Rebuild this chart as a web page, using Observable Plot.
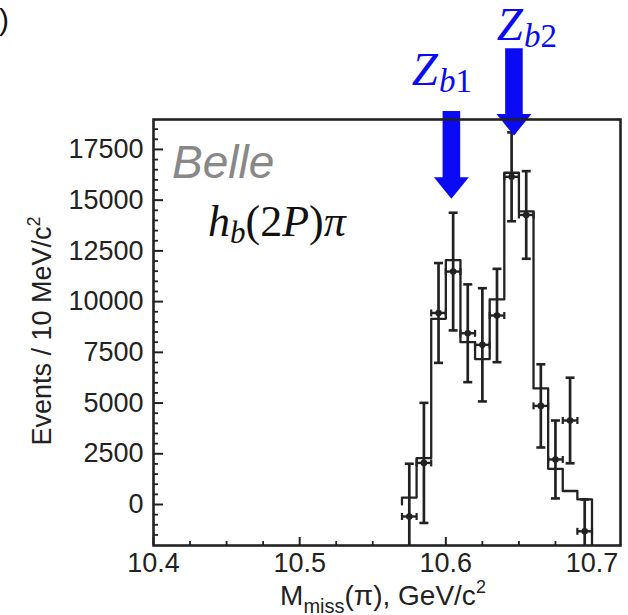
<!DOCTYPE html>
<html><head><meta charset="utf-8">
<script src="https://cdn.jsdelivr.net/npm/d3@7"></script>
<script src="https://cdn.jsdelivr.net/npm/@observablehq/plot@0.6"></script>
<style>
html,body{margin:0;padding:0;background:#fff;}
#chart{position:relative;width:628px;height:615px;overflow:hidden;}
</style></head><body><div id="chart"></div>
<script>
// ---- data ----
const binCenters = [10.575, 10.585, 10.595, 10.605, 10.615, 10.625, 10.635, 10.645, 10.655, 10.665, 10.675, 10.685, 10.695];
const events     = [-590, 2050, 9440, 11480, 8440, 7870, 9315, 16150, 14270, 4860, 2220, 4140, -1320];
const errors     = [2600, 2960, 2460, 2900, 2410, 2790, 2300, 2190, 2160, 2050, 1920, 2110, 1570];
const fitValues  = [340, 2290, 9150, 12040, 8000, 7170, 10110, 16350, 14450, 5720, 1760, 665, 250];
const binWidth = 0.01;

const xMajorTicks = [10.4, 10.5, 10.6, 10.7];
const xMinorTicks = [10.425, 10.45, 10.475, 10.525, 10.55, 10.575, 10.625, 10.65, 10.675];
const yMajorTicks = [0, 2500, 5000, 7500, 10000, 12500, 15000, 17500];
const yMinorTicks = [-1500, -1000, -500, 500, 1000, 1500, 2000, 3000, 3500, 4000, 4500, 5500, 6000, 6500, 7000,
  8000, 8500, 9000, 9500, 10500, 11000, 11500, 12000, 13000, 13500, 14000, 14500, 15500, 16000, 16500, 17000, 18000, 18500];

const arrowNames  = ["1", "2"];
const arrowMass   = [10.6038, 10.6466];
const arrowTip    = [15066, 18186];
const arrowTail   = [19369, 22459];
const labelMass   = [10.5771, 10.6352];
const labelLevel  = [20651, 22868];

const xDomain = [10.4, 10.7195];
const yDomain = [-2020, 18975];

// ---- derived tables ----
const points = binCenters.map((m, i) => ({m, n: events[i], e: errors[i]}));
const steps = [{x: binCenters[0] - binWidth / 2, y: 0}];
binCenters.forEach((c, i) => {
  steps.push({x: c - binWidth / 2, y: fitValues[i]});
  steps.push({x: c + binWidth / 2, y: fitValues[i]});
});
steps.push({x: binCenters[binCenters.length - 1] + binWidth / 2, y: yDomain[0]});
const arrows = arrowNames.map((k, i) => ({k, m: arrowMass[i], tip: arrowTip[i], tail: arrowTail[i]}));

const W = 628, H = 615, mL = 153, mR = 8, mT = 119, mB = 70;
const plotW = W - mL - mR, plotH = H - mT - mB;
const ink = "#222";
const blue = "#0a0af5";

const hCap = {draw(ctx) { ctx.moveTo(-4.5, 0); ctx.lineTo(4.5, 0); }};
const vCap = {draw(ctx) { ctx.moveTo(0, -3.5); ctx.lineTo(0, 3.5); }};
const head = {draw(ctx) { ctx.moveTo(0, 0); ctx.lineTo(-17.5, -21.6); ctx.lineTo(17.5, -21.6); ctx.closePath(); }};

const plot = Plot.plot({
  width: W, height: H,
  marginLeft: mL, marginRight: mR, marginTop: mT, marginBottom: mB,
  style: {fontFamily: "Liberation Sans, Arial, sans-serif", color: ink, background: "#fff"},
  x: {domain: xDomain},
  y: {domain: yDomain},
  marks: [
    Plot.tickY(yMajorTicks, {y: d => d, insetRight: plotW - 10, stroke: ink, strokeWidth: 2}),
    Plot.tickY(yMinorTicks, {y: d => d, insetRight: plotW - 5, stroke: ink, strokeWidth: 1.8}),
    Plot.tickX(xMajorTicks, {x: d => d, insetTop: plotH - 8, stroke: ink, strokeWidth: 2}),
    Plot.tickX(xMinorTicks, {x: d => d, insetTop: plotH - 4, stroke: ink, strokeWidth: 1.8}),
    Plot.axisY(yMajorTicks, {tickSize: 0, tickPadding: 10, tickFormat: d => String(d), fontSize: 27, label: null}),
    Plot.axisX(xMajorTicks, {tickSize: 0, tickPadding: 7, tickFormat: d => d.toFixed(1), fontSize: 27, label: null}),
    Plot.line(steps, {x: "x", y: "y", stroke: ink, strokeWidth: 2.3, clip: true}),
    Plot.ruleX(points, {x: "m", y1: d => d.n - d.e, y2: d => d.n + d.e, stroke: ink, strokeWidth: 2.7, clip: true}),
    Plot.dot(points, {x: "m", y: d => d.n + d.e, symbol: hCap, stroke: ink, strokeWidth: 2.6, fill: "none", clip: true}),
    Plot.dot(points, {x: "m", y: d => d.n - d.e, symbol: hCap, stroke: ink, strokeWidth: 2.6, fill: "none", clip: true}),
    Plot.ruleY(points, {y: "n", x1: d => d.m - binWidth / 2, x2: d => d.m + binWidth / 2, stroke: ink, strokeWidth: 2.4, clip: true}),
    Plot.dot(points, {x: d => d.m - binWidth / 2, y: "n", symbol: vCap, stroke: ink, strokeWidth: 2.2, fill: "none", clip: true}),
    Plot.dot(points, {x: d => d.m + binWidth / 2, y: "n", symbol: vCap, stroke: ink, strokeWidth: 2.2, fill: "none", clip: true}),
    Plot.dot(points, {x: "m", y: "n", r: 3.3, fill: ink, stroke: null, clip: true}),
    Plot.ruleX(arrows, {x: "m", y1: "tail", y2: "tip", insetBottom: 18, stroke: blue, strokeWidth: 17.6}),
    Plot.dot(arrows, {x: "m", y: "tip", symbol: head, fill: blue, stroke: null}),
    Plot.frame({stroke: ink, strokeWidth: 2.6})
  ]
});

const svg = d3.select(plot);
const sx = plot.scale("x"), sy = plot.scale("y");

// Z_b labels
arrowNames.forEach((k, i) => {
  const t = svg.append("text")
    .attr("x", sx.apply(labelMass[i])).attr("y", sy.apply(labelLevel[i]))
    .attr("text-anchor", "start")
    .attr("font-family", "Liberation Serif, DejaVu Serif, serif")
    .attr("font-size", 47).attr("fill", blue);
  t.append("tspan").attr("font-style", "italic").text("Z");
  t.append("tspan").attr("font-style", "italic").attr("font-size", 33).attr("dy", 7).attr("dx", 1).text("b");
  t.append("tspan").attr("font-size", 33).text(k);
});

// Belle
svg.append("text").attr("x", 172).attr("y", 178).attr("text-anchor", "start")
  .attr("font-family", "Liberation Sans, Arial, sans-serif").attr("font-style", "italic")
  .attr("font-size", 46).attr("fill", "#888").text("Belle");

// h_b(2P)pi
{
  const t = svg.append("text").attr("x", 208).attr("y", 236).attr("text-anchor", "start")
    .attr("font-family", "Liberation Serif, DejaVu Serif, serif").attr("font-size", 44).attr("fill", "#111");
  t.append("tspan").attr("font-style", "italic").text("h");
  t.append("tspan").attr("font-style", "italic").attr("font-size", 31).attr("dy", 7).text("b");
  t.append("tspan").attr("dy", -7).text("(2");
  t.append("tspan").attr("font-style", "italic").text("P");
  t.append("tspan").text(")");
  t.append("tspan").attr("font-style", "italic").text("π");
}

// y axis label
{
  const t = svg.append("text").attr("transform", "translate(51,331) rotate(-90)")
    .attr("text-anchor", "middle").attr("font-family", "Liberation Sans, Arial, sans-serif")
    .attr("font-size", 27).attr("fill", ink);
  t.append("tspan").text("Events / 10 MeV/c");
  t.append("tspan").attr("font-size", 18).attr("dy", -11).text("2");
}

// x axis label
{
  const t = svg.append("text").attr("x", 383).attr("y", 605)
    .attr("text-anchor", "middle").attr("font-family", "Liberation Sans, Arial, sans-serif")
    .attr("font-size", 28).attr("fill", ink);
  t.append("tspan").text("M");
  t.append("tspan").attr("font-size", 20).attr("dy", 8).text("miss");
  t.append("tspan").attr("dy", -8).text("(π), GeV/c");
  t.append("tspan").attr("font-size", 18).attr("dy", -12).text("2");
}

// panel label (cropped)
svg.append("text").attr("x", 9).attr("y", 30).attr("text-anchor", "end")
  .attr("font-family", "Liberation Sans, Arial, sans-serif").attr("font-size", 30).attr("fill", "#111").text("(b)");

document.getElementById("chart").appendChild(plot);
</script>
</body></html>
